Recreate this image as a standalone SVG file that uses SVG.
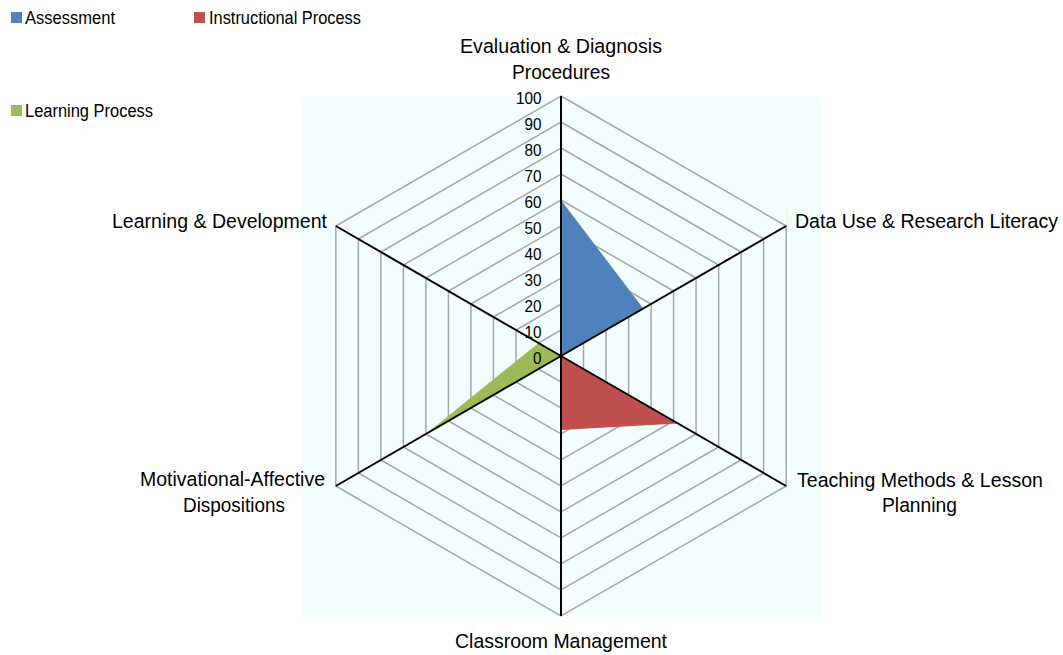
<svg xmlns="http://www.w3.org/2000/svg" width="1063" height="655" viewBox="0 0 1063 655">
<style>
text{font-family:"Liberation Sans",Arial,sans-serif;fill:#000;}
.lab{font-size:20.5px;}
.leg{font-size:18px;}
.val{font-size:17px;text-anchor:end;}
.grid{fill:none;stroke:#a6a6a6;stroke-width:1.5;}
.axis{stroke:#000;stroke-width:2;}
</style>
<rect width="1063" height="655" fill="#ffffff"/>
<g id="plot-area">
<rect x="301" y="97" width="520" height="520" fill="#f3ffff"/>
</g>
<g id="gridlines">
<polygon class="grid" points="561,330 583.52,343 583.52,369 561,382 538.48,369 538.48,343"/>
<polygon class="grid" points="561,304 606.03,330 606.03,382 561,408 515.97,382 515.97,330"/>
<polygon class="grid" points="561,278 628.55,317 628.55,395 561,434 493.45,395 493.45,317"/>
<polygon class="grid" points="561,252 651.07,304 651.07,408 561,460 470.93,408 470.93,304"/>
<polygon class="grid" points="561,226 673.58,291 673.58,421 561,486 448.42,421 448.42,291"/>
<polygon class="grid" points="561,200 696.10,278 696.10,434 561,512 425.90,434 425.90,278"/>
<polygon class="grid" points="561,174 718.62,265 718.62,447 561,538 403.38,447 403.38,265"/>
<polygon class="grid" points="561,148 741.13,252 741.13,460 561,564 380.87,460 380.87,252"/>
<polygon class="grid" points="561,122 763.65,239 763.65,473 561,590 358.35,473 358.35,239"/>
<polygon class="grid" points="561,96 786.17,226 786.17,486 561,616 335.83,486 335.83,226"/>
</g>
<g id="series-assessment">
<polygon points="561,356 561,200 643.2,308.5" fill="#4f81bd"/>
</g>
<g id="series-instructional">
<polygon points="561,356 678.1,423.6 561,430.1" fill="#c0504d"/>
</g>
<g id="series-learning">
<polygon points="561,356 538.48,343 425.9,434" fill="#9bbb59"/>
</g>
<g id="axes">
<line class="axis" x1="561" y1="356" x2="561" y2="96"/>
<line class="axis" x1="561" y1="356" x2="786.17" y2="226"/>
<line class="axis" x1="561" y1="356" x2="786.17" y2="486"/>
<line class="axis" x1="561" y1="356" x2="561" y2="616"/>
<line class="axis" x1="561" y1="356" x2="335.83" y2="486"/>
<line class="axis" x1="561" y1="356" x2="335.83" y2="226"/>
</g>
<g id="value-labels">
<text class="val" x="541.5" y="104" textLength="25.5" lengthAdjust="spacingAndGlyphs">100</text>
<text class="val" x="541.5" y="130" textLength="17" lengthAdjust="spacingAndGlyphs">90</text>
<text class="val" x="541.5" y="156" textLength="17" lengthAdjust="spacingAndGlyphs">80</text>
<text class="val" x="541.5" y="182" textLength="17" lengthAdjust="spacingAndGlyphs">70</text>
<text class="val" x="541.5" y="208" textLength="17" lengthAdjust="spacingAndGlyphs">60</text>
<text class="val" x="541.5" y="234" textLength="17" lengthAdjust="spacingAndGlyphs">50</text>
<text class="val" x="541.5" y="260" textLength="17" lengthAdjust="spacingAndGlyphs">40</text>
<text class="val" x="541.5" y="286" textLength="17" lengthAdjust="spacingAndGlyphs">30</text>
<text class="val" x="541.5" y="312" textLength="17" lengthAdjust="spacingAndGlyphs">20</text>
<text class="val" x="541.5" y="338" textLength="17" lengthAdjust="spacingAndGlyphs">10</text>
<text class="val" x="541.5" y="364" textLength="8.5" lengthAdjust="spacingAndGlyphs">0</text>
</g>
<g id="category-labels">
<g id="cat-evaluation">
<text class="lab" x="460" y="53" textLength="202" lengthAdjust="spacingAndGlyphs">Evaluation &amp; Diagnosis</text>
<text class="lab" x="512" y="78.5" textLength="98" lengthAdjust="spacingAndGlyphs">Procedures</text>
</g>
<g id="cat-datause">
<text class="lab" x="795" y="228" style="font-size:19.5px" textLength="263" lengthAdjust="spacingAndGlyphs">Data Use &amp; Research Literacy</text>
</g>
<g id="cat-teaching">
<text class="lab" x="797" y="486.5" textLength="246" lengthAdjust="spacingAndGlyphs">Teaching Methods &amp; Lesson</text>
<text class="lab" x="882" y="512" textLength="75" lengthAdjust="spacingAndGlyphs">Planning</text>
</g>
<g id="cat-classroom">
<text class="lab" x="455" y="648" textLength="212" lengthAdjust="spacingAndGlyphs">Classroom Management</text>
</g>
<g id="cat-motivational">
<text class="lab" x="140" y="485.5" textLength="185" lengthAdjust="spacingAndGlyphs">Motivational-Affective</text>
<text class="lab" x="183" y="511.5" textLength="102" lengthAdjust="spacingAndGlyphs">Dispositions</text>
</g>
<g id="cat-learning">
<text class="lab" x="112" y="228" textLength="215" lengthAdjust="spacingAndGlyphs">Learning &amp; Development</text>
</g>
</g>
<g id="legend">
<g id="legend-assessment">
<rect x="11" y="12" width="11" height="11" fill="#4f81bd"/>
<text class="leg" x="25" y="24" textLength="90" lengthAdjust="spacingAndGlyphs">Assessment</text>
</g>
<g id="legend-instructional">
<rect x="194" y="12" width="11" height="11" fill="#c0504d"/>
<text class="leg" x="209" y="24" textLength="152" lengthAdjust="spacingAndGlyphs">Instructional Process</text>
</g>
<g id="legend-learning">
<rect x="11" y="105" width="11" height="11" fill="#9bbb59"/>
<text class="leg" x="25" y="117" textLength="128" lengthAdjust="spacingAndGlyphs">Learning Process</text>
</g>
</g>
</svg>
